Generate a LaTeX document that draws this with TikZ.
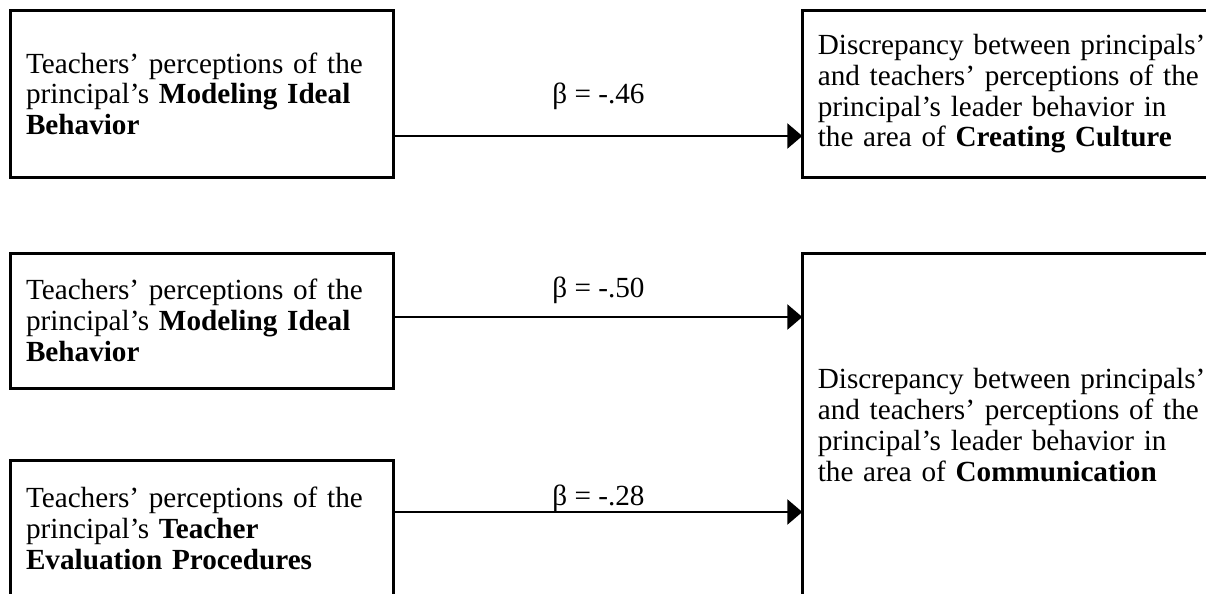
\documentclass[tikz,border=0pt]{standalone}
\usepackage{fontspec}
\setmainfont{Liberation Serif}
\usetikzlibrary{arrows.meta}
\begin{document}
\begin{tikzpicture}[x=0.5pt,y=-0.5pt,
  txt/.style={font={\fontsize{14.6pt}{15.4pt}\selectfont}},
  box/.style={txt, draw, line width=1.5pt, outer sep=0pt, anchor=north west,
    inner xsep=7.75pt, inner ysep=0pt, align=left, text width=#1},
  link/.style={line width=1.25pt, -{Triangle[length=7.5pt,width=12.5pt]}},
  lbl/.style={txt, anchor=base, inner sep=0pt}
]
\useasboundingbox (0,0) rectangle (1206,594);
\clip (0,0) rectangle (1206,594);

% predictor boxes
\node[box=176pt, minimum height=83.75pt] (L1) at (10.5,10)
  {Teachers’ perceptions of the\\principal’s \textbf{Modeling Ideal}\\\textbf{Behavior}};
\node[box=176pt, minimum height=67.5pt] (L2) at (10.5,253)
  {Teachers’ perceptions of the\\principal’s \textbf{Modeling Ideal}\\\textbf{Behavior}};
\node[box=176pt, minimum height=68.5pt] (L3) at (10.5,460)
  {Teachers’ perceptions of the\\principal’s \textbf{Teacher}\\\textbf{Evaluation Procedures}};

% outcome boxes (their right edges run past the page)
\node[box=205pt, minimum height=83.75pt] (R1) at (802.3,10)
  {Discrepancy between principals’\\and teachers’ perceptions of the\\principal’s leader behavior in\\the area of \textbf{Creating Culture}};
\node[box=205pt, minimum height=172pt] (R2) at (802.3,253)
  {Discrepancy between principals’\\and teachers’ perceptions of the\\principal’s leader behavior in\\the area of \textbf{Communication}};

% path levels
\coordinate (y1) at (0,136);
\coordinate (y2) at (0,317);
\coordinate (y3) at (0,512);

\draw[link] (L1.east |- y1) -- (R1.west |- y1);
\draw[link] (L2.east |- y2) -- (R2.west |- y2);
\draw[link] (L3.east |- y3) -- (R2.west |- y3);

% path coefficients
\node[lbl] (b1) at (598.5,103) {β = -.46};
\node[lbl] (b2) at (598.5,297) {β = -.50};
\node[lbl] (b3) at (598.5,505) {β = -.28};
\end{tikzpicture}
\end{document}
